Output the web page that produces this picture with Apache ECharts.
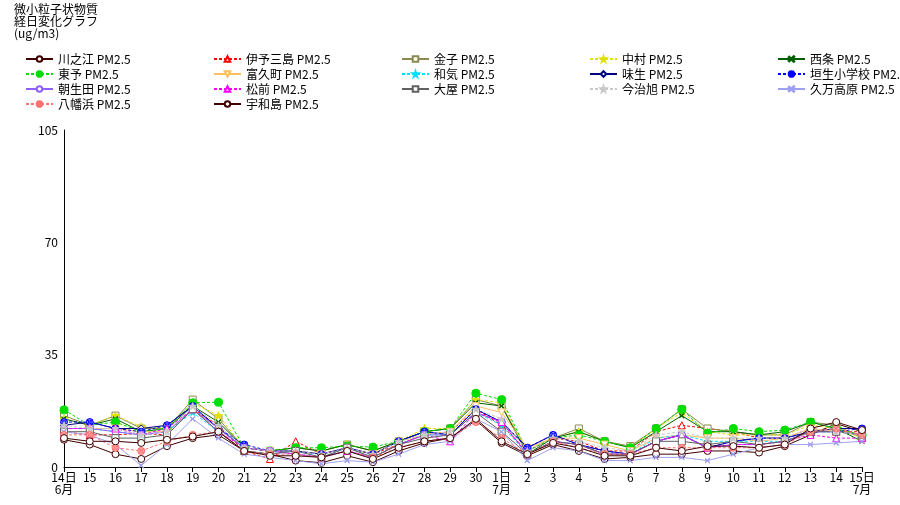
<!DOCTYPE html>
<html>
<head>
<meta charset="utf-8">
<script src="https://cdn.jsdelivr.net/npm/echarts@6/dist/echarts.min.js"></script>
<style>
  html, body { margin: 0; padding: 0; background: #fff; }
  #chart { width: 900px; height: 505px; }
</style>
</head>
<body>
<div id="chart"></div>
<script>
// 日付 (6/14 ～ 7/15)
const days = [14, 15, 16, 17, 18, 19, 20, 21, 22, 23, 24, 25, 26, 27, 28, 29, 30,
  1, 2, 3, 4, 5, 6, 7, 8, 9, 10, 11, 12, 13, 14, 15];
const yTicks = [0, 35, 70, 105];

// 各測定局 PM2.5 (ug/m3)
const kawanoe   = [8.5, 7, 4, 2.5, 6.5, 9, 10, 5, 4, 2, 1.3, 3.5, 1.5, 5, 7.5, 9, 14.5, 7.5, 3.5, 7, 5, 2.5, 3, 4, 4, 5, 5, 4.5, 6.5, 10, 13.5, 11];
const iyomishima = [11, 10, 10, 10.5, 10, 18, 13, 5, 2.5, 8, 4, 6, 4, 7, 10, 11, 18, 13, 5, 9, 8, 5, 5, 11, 13, 12, 11, 9, 9, 12, 11, 11];
const kaneko    = [16, 13, 16, 12, 12, 21, 15, 6, 5, 6, 5, 7, 5, 8, 11, 12, 21, 19, 5, 9, 12, 8, 6.5, 12, 18, 12, 11, 10, 10, 14, 13, 9];
const nakamura  = [15, 13, 16, 12.5, 12, 20, 16, 6, 5, 6, 5, 7, 5, 8, 12, 12, 21, 20, 5, 9, 11, 8, 6, 12, 17, 11, 10, 10, 10, 13, 12, 9];
const saijo     = [15, 13, 15, 11, 12, 19, 14, 6, 5, 6, 5, 7, 5, 8, 11, 12, 20, 19, 4, 9, 11, 8, 6, 11, 16, 11, 11, 10, 11, 14, 12, 8];
const toyo      = [17.8, 13, 14, 11, 12, 20, 20.2, 6, 5, 6, 6, 6.5, 6.2, 8, 11, 12, 23, 21, 5, 9, 10, 8, 6, 12, 18, 10.5, 12, 11, 11.5, 14, 12, 10];
const fukumachi = [12, 12, 12, 11, 11, 18, 12, 6, 5, 5, 4, 6, 4, 8, 10, 11, 19, 17, 6, 9, 9, 7, 5, 9, 10, 9, 9, 8, 9, 12, 11, 10];
const wake      = [12, 12, 11, 10, 11, 17, 11, 5, 4, 5, 3, 6, 3, 7, 10, 10, 17, 13, 4, 8, 7, 4, 4, 9, 10, 8, 8, 8, 8, 11, 11, 10];
const ajiu      = [13, 14, 12, 12, 13, 19, 12, 6, 5, 5, 4, 6, 4, 8, 11, 10, 18, 14, 6, 10, 7, 5, 4, 8, 10, 6, 8, 9, 9, 11, 12, 12];
const hanyu     = [14, 14, 12, 11, 13, 19, 12, 7, 5, 5, 4, 6, 4, 8, 11, 10, 18, 14, 6, 10, 7, 5, 4, 8, 10, 6, 8, 9, 9, 11, 11, 12];
const asoda     = [12, 12, 11, 10, 11, 18, 12, 6, 5, 4, 3, 5, 3, 7, 10, 10, 17, 14, 4, 8, 7, 4, 4, 8, 10, 6, 7, 7, 8, 11, 11, 10];
const masaki    = [12, 12, 12, 10, 12, 18, 11, 6, 5, 4, 3, 5, 3, 7, 10, 8, 17, 14, 4, 8, 7, 4, 4, 8, 10, 6, 7, 7, 8, 10, 9, 9];
const oya       = [11, 11, 9, 9, 10, 18, 11, 5, 4, 5, 3, 6, 3, 7, 9, 10, 17, 11, 4, 8, 7, 4, 4, 8, 8, 7, 8, 7, 8, 11, 11, 10];
const imabari   = [13, 12, 12, 10, 11, 19, 13, 6, 5, 5, 4, 6, 4, 8, 10, 11, 18, 15, 5, 9, 8, 6, 5, 10, 11, 9, 9, 9, 9, 12, 11, 10];
const kumakogen = [11, 10, 7, 0.5, 7, 15, 9, 4, 3, 2, 1, 2, 1.5, 4, 7, 8, 15, 11, 2, 6, 5, 2, 2, 3, 3, 2, 4, 6, 7, 7, 7.5, 8];
const yawatahama = [10, 10, 6, 5, 8, 10, 11, 5, 4, 4, 3, 5, 3, 6, 8, 9, 14, 9, 4, 8, 6, 4, 4, 6, 6, 6, 6, 6, 7, 11, 12, 10];
const uwajima   = [9, 8, 8, 7.5, 8.5, 9.5, 11, 5, 3.5, 3.5, 3, 5, 2.5, 6, 8, 9, 15, 8, 4, 7.5, 6, 3.5, 3.5, 6, 5, 6.5, 6.5, 6, 7, 12, 14, 11.5];

const FONT = '"Noto Sans CJK JP", sans-serif';

// マーカー
const STAR = 'path://M5,0L6.2,3.6L10,3.6L7,5.9L8.1,9.5L5,7.3L1.9,9.5L3,5.9L0,3.6L3.8,3.6Z';
const CROSS = 'path://M0,0L10,10L9,11L-1,1ZM10,0L0,10L-1,9L9,-1Z';
const CIRCLEX = 'path://M5,0A5,5 0 1,1 4.99,0ZM2,1L5,4L8,1L9,2L6,5L9,8L8,9L5,6L2,9L1,8L4,5L1,2Z';
const TRIDOWN = 'path://M0,0L10,0L5,9Z';

function mk(name, data, color, dashed, symbol, fill, size) {
  return {
    name: name,
    type: 'line',
    data: data,
    symbol: symbol,
    symbolSize: size || 7,
    color: color,
    lineStyle: { width: 1, color: color, type: dashed ? [3, 2] : 'solid' },
    itemStyle: { color: fill || '#ffffff', borderColor: color, borderWidth: 1 },
    emphasis: { disabled: true },
  };
}

const series = [
  mk('川之江 PM2.5', kawanoe, '#400000', false, 'circle'),
  mk('伊予三島 PM2.5', iyomishima, '#ff0000', true, 'triangle'),
  mk('金子 PM2.5', kaneko, '#8a8a50', false, 'rect'),
  mk('中村 PM2.5', nakamura, '#e0e000', true, STAR, '#e0e000', 8),
  mk('西条 PM2.5', saijo, '#006000', false, CROSS, '#006000', 5),
  mk('東予 PM2.5', toyo, '#00dd00', true, CIRCLEX, '#00dd00', 8),
  mk('富久町 PM2.5', fukumachi, '#ffc060', false, TRIDOWN),
  mk('和気 PM2.5', wake, '#00e0ff', true, STAR, '#00e0ff', 6),
  mk('味生 PM2.5', ajiu, '#000080', false, 'diamond'),
  mk('垣生小学校 PM2.5', hanyu, '#0000ff', true, CIRCLEX, '#8080ff', 7),
  mk('朝生田 PM2.5', asoda, '#9060ff', false, 'circle'),
  mk('松前 PM2.5', masaki, '#ff00ff', true, 'triangle'),
  mk('大屋 PM2.5', oya, '#606060', false, 'rect'),
  mk('今治旭 PM2.5', imabari, '#c8c8c8', true, STAR, '#c8c8c8', 7),
  mk('久万高原 PM2.5', kumakogen, '#a0a0f0', false, CROSS, '#8080e0', 5),
  mk('八幡浜 PM2.5', yawatahama, '#ff7070', true, CIRCLEX, '#ffb0b0', 7),
  mk('宇和島 PM2.5', uwajima, '#400000', false, 'circle'),
];

// 凡例の列
const legendCols = [
  ['川之江 PM2.5', '東予 PM2.5', '朝生田 PM2.5', '八幡浜 PM2.5'],
  ['伊予三島 PM2.5', '富久町 PM2.5', '松前 PM2.5', '宇和島 PM2.5'],
  ['金子 PM2.5', '和気 PM2.5', '大屋 PM2.5'],
  ['中村 PM2.5', '味生 PM2.5', '今治旭 PM2.5'],
  ['西条 PM2.5', '垣生小学校 PM2.5', '久万高原 PM2.5'],
];
const legendLeft = [25, 213, 401, 589, 777];

const legends = legendCols.map((col, i) => ({
  orient: 'vertical',
  left: legendLeft[i],
  top: 53,
  padding: 0,
  itemWidth: 27,
  itemHeight: 7,
  itemGap: 3,
  data: col,
  selectedMode: false,
  textStyle: { fontFamily: FONT, fontSize: 12, color: '#000', lineHeight: 12 },
}));

const chart = echarts.init(document.getElementById('chart'));
chart.setOption({
  animation: false,
  backgroundColor: '#ffffff',
  title: {
    text: '微小粒子状物質\n経日変化グラフ\n(ug/m3)',
    left: 14,
    top: 3,
    padding: 0,
    textStyle: { fontFamily: FONT, fontSize: 12, fontWeight: 'normal', color: '#000', lineHeight: 12 },
  },
  legend: legends,
  grid: { left: 64, right: 38, top: 130, bottom: 38 },
  xAxis: {
    type: 'category',
    boundaryGap: false,
    data: days,
    axisLine: { lineStyle: { color: '#000', width: 1 } },
    axisTick: { show: true, length: 5, lineStyle: { color: '#000' } },
    axisLabel: {
      interval: 0,
      margin: 4,
      color: '#000',
      fontFamily: FONT,
      fontSize: 12,
      lineHeight: 12,
      formatter: (v, i) => {
        if (i === 0) return v + '日\n6月';
        if (i === 17) return v + '日\n7月';
        if (i === days.length - 1) return v + '日\n7月';
        return String(v);
      },
    },
  },
  yAxis: {
    type: 'value',
    min: yTicks[0],
    max: yTicks[yTicks.length - 1],
    interval: 35,
    splitLine: { show: false },
    axisLine: { show: true, lineStyle: { color: '#000', width: 1 } },
    axisTick: { show: false },
    axisLabel: { color: '#000', fontFamily: FONT, fontSize: 12, margin: 6 },
  },
  series: series,
});
</script>
</body>
</html>
